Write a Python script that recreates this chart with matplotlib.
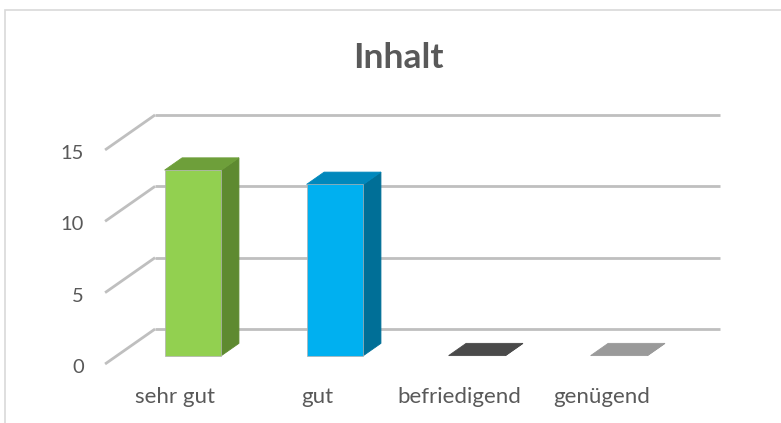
import numpy as np
import matplotlib
matplotlib.use("Agg")
import matplotlib.pyplot as plt
from matplotlib.patches import Polygon, Rectangle

# Data
categories = ["sehr gut", "gut", "befriedigend", "genügend"]
values = [13, 12, 0, 0]
yticks = [0, 5, 10, 15]
title = "Inhalt"

# Styles (front, side, top) per bar
front_cols = ["#92D050", "#00B0F0", "#5A5A5A", "#A6A6A6"]
side_cols = ["#5E8A30", "#006F97", "#3A3A3A", "#8A8A8A"]
top_cols = ["#6E9F3A", "#0088BC", "#4A4A4A", "#9A9A9A"]
text_col = "#595959"
grid_col = "#BFBFBF"

plt.rcParams["font.family"] = ["Lato", "DejaVu Sans"]

# oblique projection: depth 0 = back wall, depth 1 = front edge of floor
DX, DY = -0.352, -2.453
def proj(x, y, d):
    return (x + DX * d, y + DY * d)

fig = plt.figure(figsize=(7.81, 4.23), dpi=100)
ax = fig.add_axes([0, 0, 1, 1])
ax.set_xlim(-1.627, 3.873)
ax.set_ylim(-6.587, 23.055)
ax.axis("off")

# chart border (only top and left visible)
ax.add_patch(Rectangle((0.0064, -0.05), 1.1, 0.9764 + 0.05, transform=ax.transAxes,
                       fill=False, edgecolor="#D9D9D9", lw=1.2, clip_on=False))

wall_l, wall_r = -0.535, 3.444

# gridlines on back and left wall
for v in yticks:
    ax.plot([wall_l, wall_r], [v, v], color=grid_col, lw=2.0, solid_capstyle="butt", zorder=1)
    fx, fy = proj(wall_l, v, 1)
    ax.plot([wall_l, fx], [v, fy], color=grid_col, lw=2.0, solid_capstyle="butt", zorder=1)
    ax.text(fx - 0.15, fy - 0.25, str(v), ha="right", va="center",
            fontsize=14.5, color=text_col)

# bars
hw = 0.2
d_front, d_back = 0.76, 0.41
for i, v in enumerate(values):
    x0, x1 = i - hw, i + hw
    f = [proj(x0, 0, d_front), proj(x1, 0, d_front), proj(x1, v, d_front), proj(x0, v, d_front)]
    s = [proj(x1, 0, d_front), proj(x1, 0, d_back), proj(x1, v, d_back), proj(x1, v, d_front)]
    t = [proj(x0, v, d_front), proj(x1, v, d_front), proj(x1, v, d_back), proj(x0, v, d_back)]
    ax.add_patch(Polygon(s, closed=True, facecolor=side_cols[i], edgecolor=side_cols[i], lw=0.6, zorder=3))
    ax.add_patch(Polygon(t, closed=True, facecolor=top_cols[i], edgecolor=top_cols[i], lw=0.6, zorder=3))
    if v > 0:
        ax.add_patch(Polygon(f, closed=True, facecolor=front_cols[i], edgecolor="#B0B0B0", lw=0.5, zorder=4))
    lx, _ = proj(i, 0, 1)
    ax.text(lx - 0.04, -4.77, categories[i], ha="center", va="center",
            fontsize=16, color=text_col)

ax.text(0.51, 0.862, title, transform=ax.transAxes, ha="center", va="center",
        fontsize=25.5, fontweight="bold", color=text_col)

fig.savefig("out.png", dpi=100)
